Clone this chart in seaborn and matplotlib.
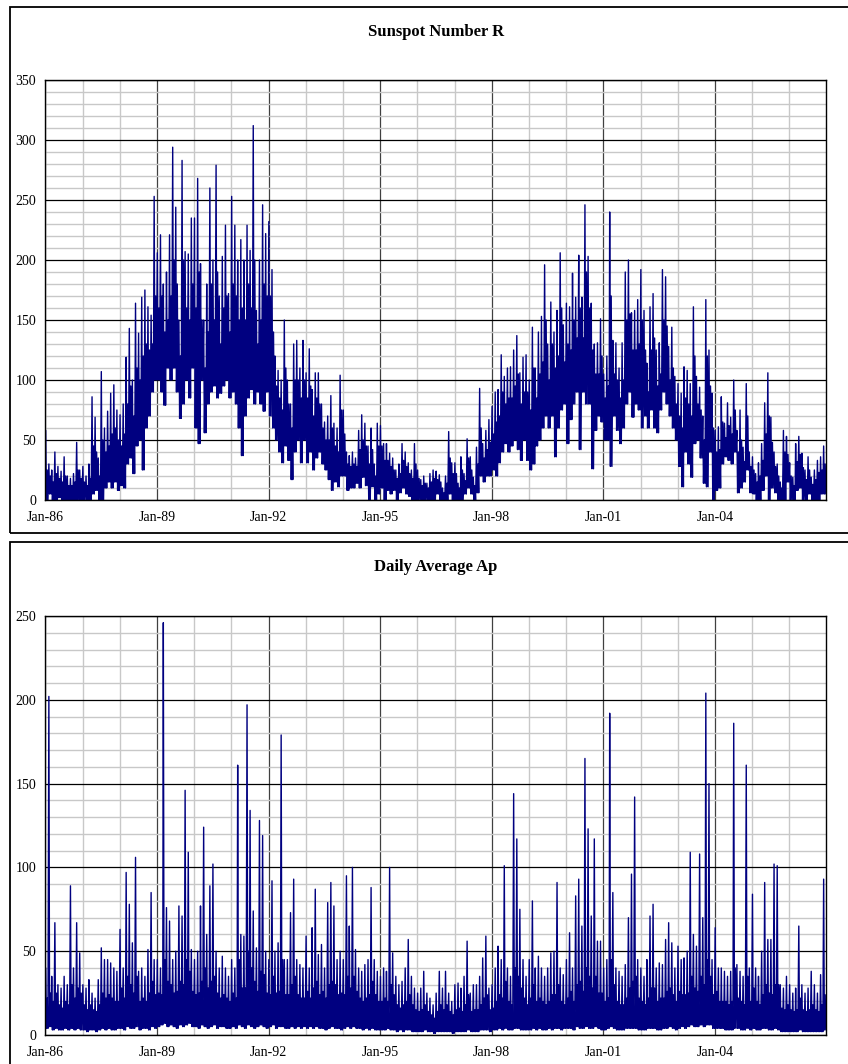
import numpy as np
import pandas as pd
import matplotlib
matplotlib.use("Agg")
import matplotlib.pyplot as plt
import matplotlib.dates as mdates
from matplotlib.patches import Rectangle
from matplotlib.ticker import MultipleLocator
import seaborn as sns

sns.set_theme(style="white")
plt.rcParams["font.family"] = ["Liberation Serif", "DejaVu Serif"]

# Monthly summaries of the daily series, Jan 1986 - Dec 2006:
# highest day, a typical secondary peak, and the lowest day of each month.
start_month = "1986-01-01"

sunspot_high = [
    58, 30, 25, 40, 28, 24, 36, 20, 18, 22, 48, 25,            # 1986
    28, 20, 30, 86, 69, 35, 107, 60, 74, 89, 96, 75,           # 1987
    71, 80, 119, 143, 100, 164, 139, 169, 175, 161, 154, 253,  # 1988
    206, 221, 180, 190, 221, 294, 244, 150, 283, 207, 205, 235,  # 1989
    235, 268, 197, 150, 180, 260, 200, 279, 170, 203, 229, 172,  # 1990
    253, 229, 200, 217, 200, 229, 208, 312, 158, 200, 246, 222,  # 1991
    232, 192, 120, 108, 100, 150, 100, 80, 130, 133, 110, 133,   # 1992
    106, 126, 92, 106, 106, 80, 65, 70, 87, 64, 60, 104,       # 1993
    75, 40, 37, 40, 35, 58, 71, 64, 45, 60, 30, 64,            # 1994
    62, 47, 47, 39, 35, 25, 30, 47, 40, 31, 25, 47,            # 1995
    25, 17, 20, 14, 22, 25, 24, 21, 10, 20, 57, 31,            # 1996
    31, 14, 36, 22, 51, 36, 19, 44, 93, 47, 58, 67,            # 1997
    78, 90, 92, 121, 103, 110, 111, 125, 137, 106, 119, 121,   # 1998
    100, 144, 110, 140, 153, 196, 130, 165, 140, 158, 206, 146,  # 1999
    164, 161, 189, 169, 204, 169, 246, 203, 164, 130, 131, 151,  # 2000
    105, 120, 240, 133, 131, 110, 131, 190, 200, 156, 158, 167,  # 2001
    192, 158, 114, 161, 172, 125, 131, 192, 186, 128, 144, 103,  # 2002
    97, 89, 111, 108, 97, 161, 103, 94, 70, 167, 125, 89,      # 2003
    58, 61, 86, 64, 81, 69, 100, 58, 75, 44, 97, 40,           # 2004
    36, 22, 31, 47, 81, 106, 69, 40, 30, 15, 58, 53,           # 2005
    31, 19, 47, 53, 39, 25, 36, 19, 25, 33, 36, 45,            # 2006
]
sunspot_mid = [
    25, 20, 15, 22, 18, 15, 20, 12, 12, 15, 25, 18,
    15, 12, 18, 45, 40, 20, 50, 40, 45, 55, 60, 50,
    45, 55, 80, 95, 70, 110, 100, 120, 130, 125, 130, 170,
    160, 170, 140, 150, 170, 200, 180, 120, 200, 160, 150, 180,
    160, 190, 150, 110, 140, 180, 150, 190, 130, 160, 170, 140,
    180, 170, 150, 160, 150, 180, 160, 200, 130, 150, 180, 170,
    170, 140, 95, 85, 75, 110, 80, 60, 100, 100, 85, 100,
    85, 95, 70, 85, 80, 60, 50, 50, 60, 45, 40, 75,
    55, 30, 28, 30, 28, 42, 50, 45, 30, 42, 20, 45,
    45, 33, 33, 28, 25, 18, 22, 33, 28, 22, 18, 30,
    18, 12, 14, 10, 15, 18, 17, 15, 6, 14, 35, 22,
    22, 10, 25, 16, 35, 25, 12, 30, 60, 35, 42, 48,
    55, 65, 70, 90, 80, 85, 85, 95, 105, 80, 90, 90,
    75, 110, 85, 105, 115, 150, 100, 130, 110, 120, 160, 115,
    130, 125, 150, 135, 160, 135, 190, 160, 125, 105, 105, 120,
    85, 95, 170, 105, 100, 85, 100, 150, 155, 125, 125, 130,
    150, 125, 90, 125, 135, 95, 105, 150, 145, 100, 110, 80,
    70, 60, 85, 80, 70, 120, 80, 75, 50, 120, 95, 60,
    40, 42, 65, 52, 62, 55, 75, 40, 50, 32, 70, 28,
    25, 15, 20, 33, 55, 70, 48, 28, 20, 10, 40, 38,
    20, 12, 32, 38, 27, 17, 25, 13, 17, 23, 25, 30,
]
sunspot_low = [
    0, 5, 0, 0, 2, 0, 0, 0, 0, 0, 0, 0,
    0, 0, 0, 5, 8, 0, 0, 10, 15, 10, 15, 8,
    12, 10, 30, 35, 22, 45, 50, 25, 60, 70, 90, 100,
    100, 90, 79, 110, 100, 110, 90, 68, 80, 100, 85, 110,
    60, 47, 100, 56, 80, 90, 95, 85, 89, 95, 100, 85,
    90, 80, 60, 37, 70, 85, 92, 80, 90, 80, 74, 90,
    70, 60, 50, 40, 31, 45, 33, 17, 40, 50, 31, 50,
    31, 40, 25, 35, 40, 30, 25, 17, 8, 15, 11, 20,
    20, 8, 10, 10, 14, 10, 19, 12, 0, 11, 0, 5,
    10, 0, 8, 5, 8, 0, 6, 10, 5, 3, 0, 0,
    0, 0, 0, 0, 0, 0, 5, 0, 0, 0, 5, 0,
    0, 0, 0, 5, 10, 5, 0, 6, 20, 15, 20, 20,
    25, 20, 31, 40, 47, 40, 45, 50, 42, 33, 50, 33,
    25, 30, 45, 50, 60, 70, 60, 70, 36, 60, 75, 80,
    47, 67, 80, 90, 42, 90, 80, 80, 26, 58, 70, 65,
    50, 50, 28, 70, 58, 47, 60, 80, 90, 69, 80, 75,
    60, 70, 60, 75, 60, 56, 75, 90, 80, 70, 60, 50,
    28, 11, 40, 30, 19, 47, 50, 35, 14, 11, 40, 0,
    8, 10, 30, 36, 33, 30, 40, 6, 10, 15, 25, 6,
    5, 0, 0, 8, 20, 0, 10, 6, 0, 0, 0, 15,
    0, 0, 8, 10, 0, 0, 5, 0, 0, 0, 5, 5,
]

ap_high = [
    40, 202, 35, 67, 30, 28, 35, 30, 89, 40, 67, 49,     # 1986
    30, 28, 33, 25, 22, 33, 52, 45, 45, 43, 40, 38,      # 1987
    63, 40, 97, 78, 55, 106, 38, 40, 35, 51, 85, 45,     # 1988
    45, 40, 246, 76, 68, 45, 50, 77, 71, 146, 109, 51,   # 1989
    45, 50, 77, 124, 60, 89, 102, 50, 40, 47, 40, 35,    # 1990
    45, 40, 161, 60, 59, 197, 134, 74, 52, 128, 119, 50,  # 1991
    45, 92, 50, 55, 179, 45, 45, 73, 93, 45, 42, 40,     # 1992
    59, 40, 64, 87, 48, 54, 40, 79, 91, 77, 45, 50,      # 1993
    45, 95, 65, 100, 51, 40, 38, 42, 45, 88, 45, 38,     # 1994
    35, 40, 38, 100, 49, 35, 30, 32, 40, 57, 35, 28,     # 1995
    25, 28, 38, 25, 22, 18, 25, 38, 28, 38, 25, 20,      # 1996
    30, 31, 28, 35, 56, 25, 30, 30, 35, 46, 59, 28,      # 1997
    30, 40, 53, 45, 101, 40, 35, 144, 117, 75, 45, 35,   # 1998
    45, 80, 40, 47, 40, 35, 40, 49, 50, 91, 40, 36,      # 1999
    45, 61, 40, 83, 93, 65, 165, 123, 71, 117, 56, 56,   # 2000
    40, 45, 192, 85, 40, 38, 35, 42, 70, 96, 142, 45,    # 2001
    40, 35, 45, 71, 78, 40, 43, 42, 57, 67, 55, 40,      # 2002
    53, 45, 46, 50, 109, 60, 53, 108, 70, 204, 150, 45,  # 2003
    64, 40, 40, 38, 35, 38, 186, 42, 38, 35, 161, 40,    # 2004
    84, 40, 35, 50, 91, 57, 57, 102, 101, 30, 28, 35,    # 2005
    30, 25, 28, 65, 30, 25, 28, 38, 30, 25, 36, 93,      # 2006
]
ap_mid = [
    22, 25, 20, 25, 18, 16, 20, 18, 30, 22, 28, 25,
    18, 15, 18, 15, 14, 18, 25, 22, 24, 22, 20, 20,
    28, 22, 35, 30, 25, 35, 20, 22, 20, 25, 32, 24,
    25, 24, 45, 32, 30, 25, 26, 32, 30, 45, 38, 26,
    24, 25, 32, 40, 28, 32, 35, 25, 22, 24, 22, 20,
    25, 22, 45, 28, 28, 50, 40, 32, 26, 38, 36, 25,
    24, 35, 25, 26, 45, 24, 24, 30, 35, 24, 22, 22,
    26, 22, 28, 32, 24, 26, 22, 30, 32, 30, 24, 25,
    24, 35, 28, 35, 26, 22, 20, 22, 24, 32, 24, 20,
    20, 22, 20, 30, 24, 18, 16, 18, 20, 24, 18, 15,
    14, 15, 18, 14, 12, 10, 14, 18, 15, 18, 14, 12,
    15, 16, 14, 18, 24, 14, 15, 15, 18, 22, 24, 15,
    16, 20, 24, 22, 32, 20, 18, 40, 35, 28, 22, 18,
    22, 30, 20, 22, 20, 18, 20, 24, 24, 30, 20, 18,
    22, 26, 20, 30, 32, 26, 40, 35, 28, 35, 25, 25,
    20, 22, 45, 30, 20, 18, 18, 22, 28, 32, 35, 22,
    20, 18, 22, 28, 28, 20, 22, 22, 26, 28, 24, 20,
    26, 24, 24, 25, 35, 28, 26, 35, 30, 45, 35, 24,
    26, 20, 20, 20, 18, 20, 40, 22, 20, 18, 35, 20,
    28, 20, 18, 24, 30, 25, 24, 30, 30, 16, 15, 18,
    15, 14, 15, 22, 15, 14, 15, 18, 15, 14, 18, 24,
]
ap_low = [
    4, 5, 3, 4, 3, 3, 4, 3, 4, 3, 4, 3,
    3, 2, 3, 3, 2, 3, 4, 3, 4, 3, 3, 4,
    4, 3, 5, 4, 4, 5, 3, 4, 4, 3, 5, 4,
    5, 6, 7, 5, 6, 5, 4, 6, 5, 6, 7, 5,
    5, 4, 6, 5, 4, 5, 6, 4, 5, 5, 4, 4,
    5, 4, 6, 5, 4, 6, 5, 4, 5, 6, 5, 4,
    5, 6, 4, 5, 5, 4, 4, 5, 4, 5, 4, 5,
    4, 5, 4, 5, 4, 4, 3, 4, 5, 4, 4, 3,
    4, 5, 4, 5, 4, 4, 3, 4, 3, 4, 3, 3,
    3, 3, 4, 3, 3, 2, 3, 2, 3, 3, 2, 2,
    2, 2, 3, 2, 2, 1, 2, 2, 2, 2, 2, 1,
    2, 2, 2, 2, 3, 2, 2, 2, 3, 3, 3, 2,
    3, 3, 4, 3, 4, 3, 3, 4, 4, 3, 3, 3,
    3, 4, 3, 4, 3, 3, 4, 3, 4, 4, 3, 4,
    4, 4, 3, 5, 4, 4, 5, 4, 4, 5, 4, 3,
    3, 4, 5, 4, 3, 3, 3, 4, 4, 4, 4, 3,
    3, 3, 4, 4, 4, 3, 3, 4, 4, 5, 4, 3,
    4, 5, 4, 5, 6, 5, 5, 6, 5, 6, 6, 4,
    4, 4, 4, 3, 3, 3, 4, 4, 3, 3, 4, 3,
    4, 3, 3, 4, 4, 3, 3, 4, 3, 2, 2, 2,
    2, 2, 2, 3, 2, 2, 2, 2, 2, 2, 2, 3,
]

panel_titles = ["Sunspot Number R", "Daily Average Ap"]
panel_ymax = [350, 250]
line_color = "#000080"

W, H = 848, 1064
fig = plt.figure(figsize=(W / 100, H / 100), dpi=100)

months = pd.date_range(start_month, periods=len(sunspot_high), freq="MS")
# four samples per month: high, low, secondary peak, low
day_offsets = [3, 10, 18, 25]
dates = pd.DatetimeIndex(np.column_stack(
    [(months + pd.Timedelta(days=d)).values for d in day_offsets]).ravel())


def monthly_trace(high, mid, low):
    return np.column_stack([high, low, mid, low]).ravel()


frames = [
    pd.DataFrame({"date": dates, "value": monthly_trace(sunspot_high, sunspot_mid, sunspot_low)}),
    pd.DataFrame({"date": dates, "value": monthly_trace(ap_high, ap_mid, ap_low)}),
]

# pixel layout of each panel: (frame top, frame bottom, plot top, plot bottom, title y)
layout = [(7, 533, 80, 500, 32), (542, 1070, 616, 1035, 567)]
plot_left, plot_right = 45.4, 826.4

for df, title, ymax, (ftop, fbot, ptop, pbot, ty) in zip(frames, panel_titles, panel_ymax, layout):
    fig.add_artist(Rectangle((10 / W, 1 - fbot / H), (W + 20) / W, (fbot - ftop) / H,
                             transform=fig.transFigure, fill=False,
                             edgecolor="black", linewidth=1.3))
    ax = fig.add_axes([plot_left / W, 1 - pbot / H,
                       (plot_right - plot_left) / W, (pbot - ptop) / H])
    sns.lineplot(data=df, x="date", y="value", ax=ax, color=line_color,
                 linewidth=1.0, estimator=None, sort=False)
    ax.set_xlim(pd.Timestamp("1986-01-01"), pd.Timestamp("2006-12-31"))
    ax.set_ylim(0, ymax)
    ax.xaxis.set_major_locator(mdates.YearLocator(3))
    ax.xaxis.set_minor_locator(mdates.YearLocator(1))
    ax.xaxis.set_major_formatter(mdates.DateFormatter("%b-%y"))
    ax.yaxis.set_major_locator(MultipleLocator(50))
    ax.yaxis.set_minor_locator(MultipleLocator(10))
    ax.set_axisbelow(True)
    ax.yaxis.grid(True, which="minor", color="#c8c8c8", linewidth=1.0)
    ax.xaxis.grid(True, which="minor", color="#c8c8c8", linewidth=1.0)
    ax.yaxis.grid(True, which="major", color="#000000", linewidth=0.9)
    ax.xaxis.grid(True, which="major", color="#404040", linewidth=0.9)
    ax.set_xlabel("")
    ax.set_ylabel("")
    for s in ax.spines.values():
        s.set_visible(True)
        s.set_color("black")
        s.set_linewidth(1.0)
    ax.tick_params(axis="both", which="both", length=0, labelsize=10, colors="black")
    ax.tick_params(axis="x", pad=8)
    ax.tick_params(axis="y", pad=6.5)
    fig.text((plot_left + plot_right) / 2 / W, 1 - ty / H, title,
             ha="center", va="center", fontsize=12, fontweight="bold", color="black")

fig.savefig("out.png", dpi=100, facecolor="white")
